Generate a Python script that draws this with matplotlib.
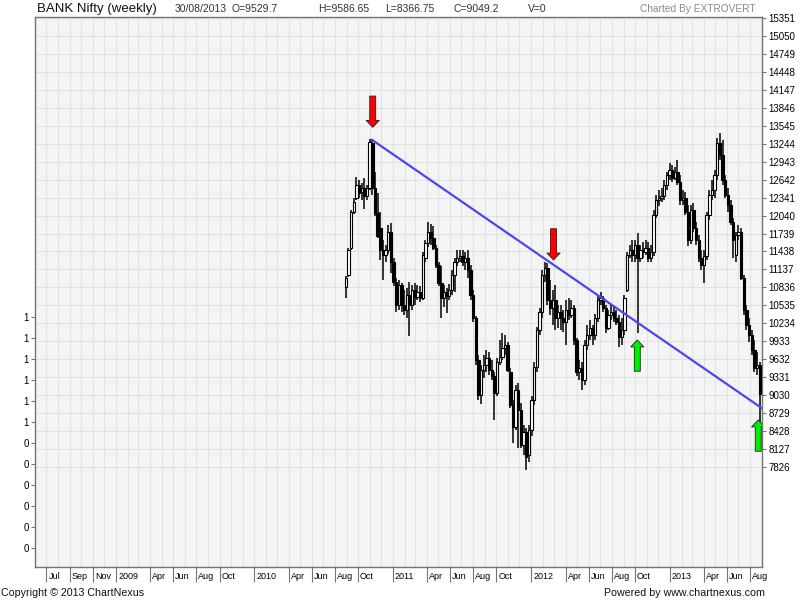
import matplotlib
matplotlib.use('Agg')
import matplotlib.pyplot as plt
import matplotlib.dates as mdates
import matplotlib.transforms as mtransforms
import numpy as np
import pandas as pd

plt.rcParams['font.family'] = ['Liberation Sans', 'DejaVu Sans']

# weekly candles, BANK Nifty, week starting 30 Aug 2010 .. 26 Aug 2013
weeks = pd.date_range('2010-08-30', periods=157, freq='7D')

opens = [10843, 11044, 11497, 12100, 12335, 12552, 12435, 12502, 12368, 12502,
         13256, 12502, 12083, 11832, 11463, 11379, 11463, 11765, 11262, 10927,
         10541, 10876, 10541, 10457, 10709, 10541, 10793, 10675, 10759, 10659,
         11329, 11580, 11765, 11664, 11497, 11212, 10910, 10659, 10759, 10692,
         10793, 11044, 11262, 11329, 11363, 11262, 11329, 11128, 10709, 10323,
         9619, 9033, 9452, 9536, 9653, 9452, 9351, 9067, 9586, 9670,
         9821, 9871, 9418, 8865, 8496, 9117, 8781, 8195, 8413, 8027,
         8446, 8949, 9502, 10122, 10424, 11044, 11161, 10625, 10491, 10625,
         10323, 10424, 10323, 10256, 10457, 10374, 10491, 9955, 9418, 9485,
         9284, 9871, 10038, 10156, 10038, 10323, 10625, 10659, 10491, 10156,
         10374, 10424, 10323, 10256, 10005, 10122, 10793, 11379, 11463, 11379,
         11547, 11329, 11463, 11430, 11497, 11329, 11430, 12050, 12301, 12335,
         12368, 12552, 12720, 12804, 12670, 12770, 12603, 12301, 12335, 12100,
         11631, 12133, 11832, 11631, 11329, 11212, 11363, 12050, 12385, 12469,
         12720, 13256, 13055, 12636, 12385, 12217, 11932, 11379, 11714, 11765,
         10994, 10457, 10206, 10038, 9787, 9485, 9529.7]
highs = [11027, 11497, 12133, 12335, 12687, 12636, 12586, 12670, 12552, 13323,
         13307, 12770, 12418, 12100, 11631, 11547, 11882, 11915, 11329, 10994,
         10960, 10910, 10793, 10826, 10927, 10876, 10910, 10876, 10860, 11430,
         11631, 11932, 11899, 11865, 11547, 11262, 11195, 10876, 10826, 10893,
         11128, 11329, 11463, 11463, 11463, 11430, 11463, 11212, 10793, 10357,
         9703, 9536, 9703, 9787, 9753, 9619, 9418, 9653, 9955, 10072,
         10038, 9921, 9485, 8949, 9200, 9234, 8899, 8530, 8480, 8530,
         9016, 9586, 10173, 10491, 11128, 11262, 11245, 10960, 10793, 10876,
         10541, 10541, 10457, 10625, 10659, 10625, 10541, 9988, 9619, 9586,
         9955, 10206, 10290, 10206, 10390, 10709, 10759, 10692, 10541, 10457,
         10541, 10524, 10457, 10374, 10323, 10709, 11430, 11547, 11631, 11631,
         11748, 11547, 11597, 11631, 11597, 11547, 12133, 12385, 12469, 12502,
         12636, 12770, 12921, 12888, 12854, 12971, 12720, 12469, 12435, 12217,
         12217, 12251, 11932, 11714, 11463, 11463, 12100, 12469, 12636, 12804,
         13340, 13424, 13307, 12720, 12502, 12301, 11999, 11765, 11882, 11832,
         11044, 10541, 10323, 10122, 9955, 9753, 9586.65]
lows = [10659, 11010, 11463, 12066, 12301, 12335, 12301, 12150, 12301, 12469,
        12385, 12033, 11664, 11295, 10960, 11262, 11396, 11077, 10860, 10424,
        10457, 10424, 10374, 10323, 10022, 10457, 10541, 10625, 10591, 10625,
        11262, 11513, 11547, 11463, 11161, 10860, 10323, 10508, 10407, 10625,
        10709, 10759, 11195, 11262, 11195, 11128, 10994, 10625, 10256, 9536,
        8949, 8882, 9318, 9418, 9368, 9284, 8614, 9016, 9536, 9619,
        9703, 9418, 8815, 8228, 8446, 8145, 8145, 8027, 7776, 7910,
        8346, 8865, 9418, 10038, 10323, 10927, 10541, 10374, 10206, 10122,
        10156, 10122, 10089, 9871, 10290, 10323, 9871, 9351, 9284, 9117,
        9200, 9787, 9955, 9871, 9955, 10256, 10541, 10424, 10072, 10122,
        10290, 10256, 10206, 9837, 9871, 10038, 10759, 11329, 11262, 11262,
        10072, 11262, 11329, 11379, 11262, 11262, 11363, 11999, 12200, 12267,
        12301, 12469, 12636, 12603, 12636, 12552, 12217, 12217, 12050, 11530,
        11564, 11765, 11547, 11262, 11128, 10910, 11295, 11966, 12301, 12335,
        12636, 12971, 12552, 12335, 12100, 11882, 11329, 11262, 11631, 10960,
        10374, 10122, 9921, 9703, 9418, 9368, 8366.75]
closes = [10994, 11463, 12100, 12267, 12552, 12418, 12502, 12368, 12502, 13273,
          12502, 12083, 11698, 11463, 11379, 11463, 11765, 11262, 10927, 10541,
          10876, 10541, 10457, 10709, 10541, 10793, 10675, 10759, 10659, 11379,
          11580, 11765, 11664, 11497, 11212, 10910, 10659, 10759, 10692, 10793,
          11044, 11262, 11329, 11363, 11262, 11329, 11128, 10709, 10323, 9619,
          9033, 9452, 9536, 9653, 9452, 9351, 9067, 9586, 9670, 9821,
          9871, 9452, 8865, 8496, 9117, 8781, 8195, 8413, 7994, 8446,
          8949, 9502, 10122, 10424, 11044, 11161, 10625, 10491, 10625, 10323,
          10424, 10323, 10256, 10457, 10374, 10491, 9955, 9418, 9485, 9284,
          9871, 10038, 10156, 10038, 10323, 10625, 10659, 10491, 10156, 10374,
          10424, 10323, 10256, 10005, 10122, 10659, 11379, 11463, 11379, 11547,
          11329, 11463, 11430, 11497, 11329, 11430, 12050, 12301, 12335, 12368,
          12552, 12720, 12804, 12670, 12770, 12603, 12301, 12335, 12100, 11631,
          12133, 11832, 11631, 11329, 11212, 11363, 12050, 12385, 12469, 12720,
          13256, 13055, 12636, 12385, 12217, 11932, 11631, 11714, 11765, 10994,
          10457, 10206, 10038, 9787, 9485, 9536, 9049.2]

price_ticks = [7826, 8127, 8428, 8729, 9030, 9331, 9632, 9933, 10234, 10535,
               10836, 11137, 11438, 11739, 12040, 12341, 12642, 12943, 13244,
               13545, 13846, 14147, 14448, 14749, 15050, 15351]

vol_labels = ['0', '0', '0', '0', '0', '0', '1', '1', '1', '1', '1', '1']

xlabel_dates = ['2008-07-01', '2008-09-01', '2008-11-01', '2009-01-01', '2009-04-01',
                '2009-06-01', '2009-08-01', '2009-10-01', '2010-01-01', '2010-04-01',
                '2010-06-01', '2010-08-01', '2010-10-01', '2011-01-01', '2011-04-01',
                '2011-06-01', '2011-08-01', '2011-10-01', '2012-01-01', '2012-04-01',
                '2012-06-01', '2012-08-01', '2012-10-01', '2013-01-01', '2013-04-01',
                '2013-06-01', '2013-08-01']
xlabels = ['Jul', 'Sep', 'Nov', '2009', 'Apr', 'Jun', 'Aug', 'Oct', '2010', 'Apr',
           'Jun', 'Aug', 'Oct', '2011', 'Apr', 'Jun', 'Aug', 'Oct', '2012', 'Apr',
           'Jun', 'Aug', 'Oct', '2013', 'Apr', 'Jun', 'Aug']

# trend line drawn on the chart
trend_dates = ['2010-11-07', '2013-09-01']
trend_vals = [13310, 8810]

# signal arrows (tip position)
arrow_dates = ['2010-11-09', '2012-02-29', '2012-10-07', '2013-08-22']
arrow_vals = [13519, 11295, 9955, 8614]
arrow_dirs = ['down', 'down', 'up', 'up']

header_date = '30/08/2013'
grid_col = '#e2e2e2'
frame_col = '#6e7676'

fig = plt.figure(figsize=(8, 6), dpi=100)
ax = fig.add_axes([35 / 800, 33 / 600, 727 / 800, 550 / 600])
ax.set_facecolor('#f4f4f4')

# odd volume scale on the left (twin made first so the price axis can go right)
ax2 = ax.twinx()

x = mdates.date2num(weeks.to_pydatetime())
o = np.array(opens)
c = np.array(closes)
bottoms = np.minimum(o, c)
heights = np.abs(c - o)
body_cols = ['white' if cc >= oo else 'black' for oo, cc in zip(o, c)]

ax.vlines(x, lows, highs, color='black', lw=1.1, zorder=2)
ax.bar(x, heights, bottom=bottoms, width=6.3, color=body_cols,
       edgecolor='black', lw=0.8, zorder=3)

ax.plot(mdates.date2num(pd.to_datetime(trend_dates).to_pydatetime()), trend_vals,
        color='#4848ee', lw=1.6, zorder=4)

for d, v, dr in zip(arrow_dates, arrow_vals, arrow_dirs):
    col = '#ff0000' if dr == 'down' else '#00ee00'
    off = 22.5 if dr == 'down' else -22.5
    ann = ax.annotate('', xy=(mdates.date2num(pd.Timestamp(d).to_pydatetime()), v),
                      xytext=(0, off), textcoords='offset points',
                      arrowprops=dict(arrowstyle='simple,head_length=0.5,head_width=0.95,tail_width=0.43',
                                      mutation_scale=10, fc=col, ec='#222222', lw=0.6,
                                      shrinkA=0, shrinkB=0), zorder=5)
    ann.arrow_patch.set_clip_box(ax.bbox)

ax.set_xlim(mdates.date2num(pd.Timestamp('2008-06-04').to_pydatetime()),
            mdates.date2num(pd.Timestamp('2013-09-01').to_pydatetime()))
ax.set_ylim(6150, 15368)

# price axis on the right
ax.yaxis.tick_right()
ax.yaxis.set_label_position('right')
ax.set_yticks(price_ticks)
ax.set_yticklabels([str(t) for t in price_ticks])
ax.tick_params(axis='y', labelsize=7, length=3, pad=1.5, color=frame_col, labelcolor='black',
               left=False, labelleft=False, right=True, labelright=True)

# x axis: labels start at the tick
months = pd.date_range('2008-06-01', '2013-09-01', freq='MS')
ax.set_xticks(mdates.date2num(months.to_pydatetime()), minor=True)
ax.set_xticks(mdates.date2num(pd.to_datetime(xlabel_dates).to_pydatetime()))
ax.set_xticklabels(xlabels, ha='left')
ax.tick_params(axis='x', which='major', labelsize=6.5, length=11, pad=-7.5,
               color=frame_col, labelcolor='black')
ax.tick_params(axis='x', which='minor', length=0)
shift = mtransforms.ScaledTranslation(2 / 100, 0, fig.dpi_scale_trans)
for lab in ax.get_xticklabels():
    lab.set_transform(lab.get_transform() + shift)

ax.set_axisbelow(True)
ax.grid(True, which='both', axis='x', color=grid_col, lw=0.8)
ax.grid(True, which='major', axis='y', color=grid_col, lw=0.8)
for sp in ax.spines.values():
    sp.set_color(frame_col)
    sp.set_linewidth(1)

ax2.set_ylim(0.08, 26.27)
ax2.set_yticks(range(1, 13))
ax2.set_yticklabels(vol_labels)
ax2.tick_params(axis='y', labelsize=7, length=3, pad=1.5, color=frame_col, labelcolor='black',
                left=True, labelleft=True, right=False, labelright=False)
for sp in ax2.spines.values():
    sp.set_visible(False)

# header and footer
top = 1 - 9 / 600
fig.text(37 / 800, top, 'BANK Nifty (weekly)', fontsize=9.5, color='#111111', va='center')
fig.text(175 / 800, top, header_date, fontsize=7.5, color='#333333', va='center')
fig.text(232 / 800, top, f'O={opens[-1]}', fontsize=7.5, color='#333333', va='center')
fig.text(318 / 800, top, f'H={highs[-1]}', fontsize=7.5, color='#333333', va='center')
fig.text(385 / 800, top, f'L={lows[-1]}', fontsize=7.5, color='#333333', va='center')
fig.text(454 / 800, top, f'C={closes[-1]}', fontsize=7.5, color='#333333', va='center')
fig.text(528 / 800, top, 'V=0', fontsize=7.5, color='#333333', va='center')
fig.text(755 / 800, top, 'Charted By EXTROVERT', fontsize=7.3, color='#8a8a8a',
         va='center', ha='right')

bot = 1 - 593 / 600
fig.text(1 / 800, bot, 'Copyright \u00a9 2013 ChartNexus', fontsize=7.7, color='#111111', va='center')
fig.text(765 / 800, bot, 'Powered by www.chartnexus.com', fontsize=7.7, color='#111111',
         va='center', ha='right')

fig.savefig('out.png', dpi=100, facecolor='white')
